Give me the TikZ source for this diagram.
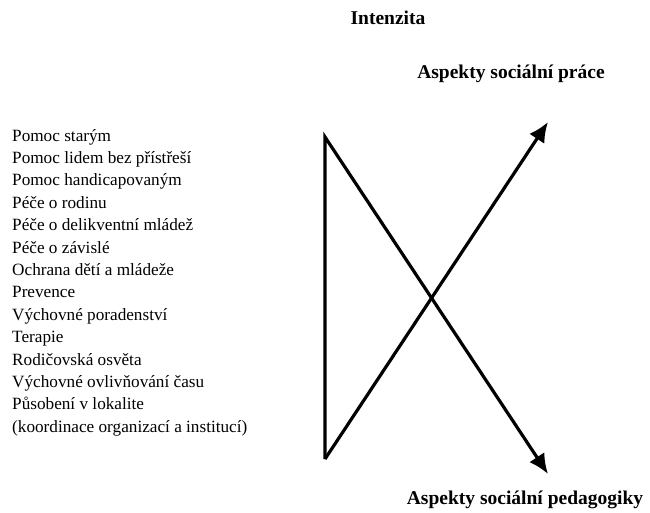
\documentclass[tikz,border=0pt]{standalone}
\usepackage{fontspec}
\setmainfont{Liberation Serif}
\usepackage{tikz}
\usetikzlibrary{arrows.meta}

\begin{document}
\begin{tikzpicture}[x=1pt,y=-1pt,
    nadpis/.style={font=\fontsize{19.5}{22}\selectfont\bfseries, inner sep=0pt},
    sipka/.style={line width=3.2pt, -{Latex[length=20pt,width=18pt]}}]
    \useasboundingbox (0,0) rectangle (650,513);
    \node [nadpis] (intenzita) at (388,18) {Intenzita};
    \node [nadpis] (prace) at (511,74) {Aspekty sociální práce};
    \node [nadpis] (pedagogika) at (525,500) {Aspekty sociální pedagogiky};
    \node [anchor=north west, align=left, inner sep=0pt,
           font=\fontsize{17.2}{22.4}\selectfont] (oblasti) at (12,129) {%
      Pomoc starým\\
      Pomoc lidem bez přístřeší\\
      Pomoc handicapovaným\\
      Péče o rodinu\\
      Péče o delikventní mládež\\
      Péče o závislé\\
      Ochrana dětí a mládeže\\
      Prevence\\
      Výchovné poradenství\\
      Terapie\\
      Rodičovská osvěta\\
      Výchovné ovlivňování času\\
      Působení v lokalite\\
      (koordinace organizací a institucí)};
    \coordinate (horni) at (325,137);
    \coordinate (dolni) at (325,459);
    \coordinate (nahoru) at (548,122);
    \coordinate (dolu) at (548,474);
    \draw [sipka] (dolni) -- (horni) -- (dolu);
    \draw [sipka] (dolni) -- (nahoru);
\end{tikzpicture}
\end{document}
